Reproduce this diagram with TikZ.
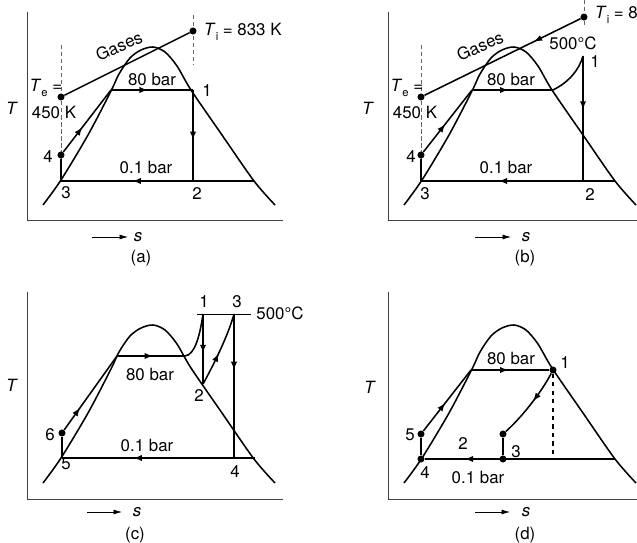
\documentclass[tikz,border=0pt]{standalone}
\usepackage{fontspec}
\setmainfont{TeX Gyre Heros}
\usepackage{tikz}
\usetikzlibrary{arrows.meta,decorations.markings}

\newcommand{\lowsub}[1]{\raisebox{-0.5ex}{\footnotesize #1}}

\begin{document}
\begin{tikzpicture}[x=0.025cm, y=-0.025cm,
  font=\fontsize{12}{14}\selectfont,
  curve/.style={line width=1.1pt},
  axisline/.style={line width=0.6pt, black!75},
  guide/.style={densely dashed, line width=0.5pt, black!60},
  dot/.style={circle, fill, inner sep=0pt, minimum size=5pt},
  gaslbl/.style={rotate=24, inner sep=0pt},
  midarrow/.style={postaction={decorate, decoration={markings,
      mark=at position #1 with {\arrow{Latex[length=6pt,width=4.5pt]}}}}},
  midarrow/.default=0.5,
  sarrow/.style={line width=0.5pt, -{Latex[length=6pt,width=3.5pt]}},
  satdome/.pic={\draw[curve] plot[smooth, tension=0.5] coordinates {(43,205) (61,180) (88,135) (111,91) (119,74) (130,58) (141,50) (153,47) (165,52) (177,66) (191,90) (222,135) (254,181) (275,205)};}
]
\useasboundingbox (0,0) rectangle (637,543);

% (a) simple Rankine cycle with gases line
\begin{scope}
  \draw[axisline] (27,12) -- (27,220) -- (283,220);
  \pic at (0,0) {satdome};
  \coordinate (aL) at (111,90);
  \coordinate (a1) at (193,90);
  \coordinate (a2) at (193,181);
  \coordinate (a3) at (61,181);
  \coordinate (aR) at (254,181);
  \coordinate (aG1) at (61,45);
  \coordinate (aG2) at (193,15);
  \coordinate (aG3) at (193,65);
  \draw[guide] (aG1) -- (a3);
  \draw[guide] (aG2) -- (aG3);
  \node[dot] (a4) at (61,155) {};
  \node[dot] (aTe) at (61,97) {};
  \node[dot] (aTi) at (193,31) {};
  \draw[curve, midarrow=0.45] (aL) -- (a1);
  \draw[curve, midarrow=0.55] (a1) -- (a2);
  \draw[curve, midarrow=0.63] (aR) -- (a3);
  \draw[curve] (a3) -- (a4);
  \draw[curve, midarrow=0.4] (a4) -- (aL);
  \draw[curve] (aTe) -- (aTi);
  \node[gaslbl] (aGas) at (119,46) {Gases};
  \node[anchor=west] (aTiL) at (199,32) {\textit{T}\lowsub{i} = 833 K};
  \node (aTeL) at (46,88) {\textit{T}\lowsub{e} =};
  \node (aTeV) at (54,112) {450 K};
  \node (aT) at (12,108) {\textit{T}};
  \node (a80) at (152,79) {80 bar};
  \node (a1L) at (207,91) {1};
  \node (a01) at (146,167) {0.1 bar};
  \node (a2L) at (197,194) {2};
  \node (a3L) at (66,193) {3};
  \node (a4L) at (48,157) {4};
  \coordinate (asA) at (92,237);
  \coordinate (asB) at (128,237);
  \draw[sarrow] (asA) -- (asB);
  \node (as) at (138,237) {\textit{s}};
  \node (acap) at (141,258) {(a)};
\end{scope}

% (b) superheat to 500 C
\begin{scope}[shift={(361,0)}]
  \draw[axisline] (27,12) -- (27,220) -- (300,220);
  \pic at (0,0) {satdome};
  \coordinate (bL) at (111,90);
  \coordinate (bS) at (192,90);
  \coordinate (b1) at (222,56);
  \coordinate (b2) at (222,181);
  \coordinate (b3) at (60,181);
  \coordinate (bR) at (254,181);
  \coordinate (bG1) at (60,45);
  \coordinate (bG2) at (223,0);
  \coordinate (bG3) at (223,27);
  \draw[guide] (bG1) -- (b3);
  \draw[guide] (bG2) -- (bG3);
  \node[dot] (b4) at (60,155) {};
  \node[dot] (bTe) at (60,97) {};
  \node[dot] (bTi) at (223,17) {};
  \draw[curve, midarrow=0.45] (bL) -- (bS);
  \draw[curve] (bS) .. controls (208,82) and (218,70) .. (b1);
  \draw[curve, midarrow=0.43] (b1) -- (b2);
  \draw[curve, midarrow=0.6] (bR) -- (b3);
  \draw[curve] (b3) -- (b4);
  \draw[curve, midarrow=0.45] (b4) -- (bL);
  \draw[curve, midarrow=0.3] (bTi) -- (bTe);
  \node[gaslbl] (bGas) at (119,46) {Gases};
  \node[anchor=west] (bTiL) at (229,15) {\textit{T}\lowsub{i} = 833 K};
  \node (b500) at (212,43) {500°C};
  \node (b1L) at (234,62) {1};
  \node (bTeL) at (46,88) {\textit{T}\lowsub{e} =};
  \node (bTeV) at (54,112) {450 K};
  \node (bT) at (7,108) {\textit{T}};
  \node (b80) at (150,79) {80 bar};
  \node (b01) at (145,167) {0.1 bar};
  \node (b2L) at (229,195) {2};
  \node (b3L) at (64,194) {3};
  \node (b4L) at (50,157) {4};
  \coordinate (bsA) at (114,237);
  \coordinate (bsB) at (150,237);
  \draw[sarrow] (bsA) -- (bsB);
  \node (bs) at (165,237) {\textit{s}};
  \node (bcap) at (164,258) {(b)};
\end{scope}

% (c) reheat
\begin{scope}[shift={(0,278)}]
  \draw[axisline] (27,14) -- (27,221) -- (283,221);
  \pic at (0,0) {satdome};
  \coordinate (cL) at (117,78);
  \coordinate (cS) at (185,78);
  \coordinate (c1) at (203,36);
  \coordinate (c2) at (203,106);
  \coordinate (c3) at (234,36);
  \coordinate (c4) at (234,180);
  \coordinate (c5) at (62,180);
  \coordinate (cR) at (255,180);
  \coordinate (cH1) at (197,36);
  \coordinate (cH2) at (251,36);
  \draw[line width=0.6pt] (cH1) -- (cH2);
  \node[dot] (c6) at (62,155) {};
  \draw[curve, midarrow=0.53] (cL) -- (cS);
  \draw[curve] (cS) .. controls (195,77) and (200,57) .. (c1);
  \draw[curve, midarrow=0.56] (c1) -- (c2);
  \draw[curve, midarrow=0.45] (c2) .. controls (213,88) and (228,58) .. (c3);
  \draw[curve, midarrow=0.39] (c3) -- (c4);
  \draw[curve, midarrow=0.63] (cR) -- (c5);
  \draw[curve] (c5) -- (c6);
  \draw[curve, midarrow=0.3] (c6) -- (cL);
  \node (c1L) at (204,24) {1};
  \node (c3L) at (237,24) {3};
  \node (c500) at (280,35) {500°C};
  \node (c80) at (150,96) {80 bar};
  \node (c2L) at (199,118) {2};
  \node (c01) at (147,167) {0.1 bar};
  \node (c5L) at (66,186) {5};
  \node (c4L) at (235,194) {4};
  \node (c6L) at (50,157) {6};
  \node (cT) at (12,107) {\textit{T}};
  \coordinate (csA) at (87,234);
  \coordinate (csB) at (122,234);
  \draw[sarrow] (csA) -- (csB);
  \node (cs) at (137,234) {\textit{s}};
  \node (ccap) at (135,257) {(c)};
\end{scope}

% (d) irreversible expansion
\begin{scope}[shift={(361,278)}]
  \draw[axisline] (27,14) -- (27,221) -- (300,221);
  \pic at (0,0) {satdome};
  \coordinate (dL) at (110,92);
  \coordinate (dD) at (192,181);
  \coordinate (dR) at (254,181);
  \node[dot] (d1) at (192,92) {};
  \node[dot] (dE) at (142,156) {};
  \node[dot] (d3) at (142,181) {};
  \node[dot] (d4) at (60,181) {};
  \node[dot] (d5) at (60,156) {};
  \draw[curve, dashed] (d1) -- (dD);
  \draw[curve, midarrow=0.48] (dL) -- (d1);
  \draw[curve, midarrow=0.45] (d1) .. controls (180,115) and (160,140) .. (dE);
  \draw[curve] (dE) -- (d3);
  \draw[curve, midarrow=0.79] (dR) -- (d4);
  \draw[curve] (d4) -- (d5);
  \draw[curve, midarrow=0.46] (d5) -- (dL);
  \node (d80) at (150,80) {80 bar};
  \node (d1L) at (204,85) {1};
  \node (d5L) at (49,157) {5};
  \node (d2L) at (102,166) {2};
  \node (d3L) at (155,174) {3};
  \node (d4L) at (64,195) {4};
  \node (d01) at (117,199) {0.1 bar};
  \node (dT) at (9,109) {\textit{T}};
  \coordinate (dsA) at (114,234);
  \coordinate (dsB) at (149,234);
  \draw[sarrow] (dsA) -- (dsB);
  \node (ds) at (165,234) {\textit{s}};
  \node (dcap) at (164,257) {(d)};
\end{scope}
\end{tikzpicture}
\end{document}
